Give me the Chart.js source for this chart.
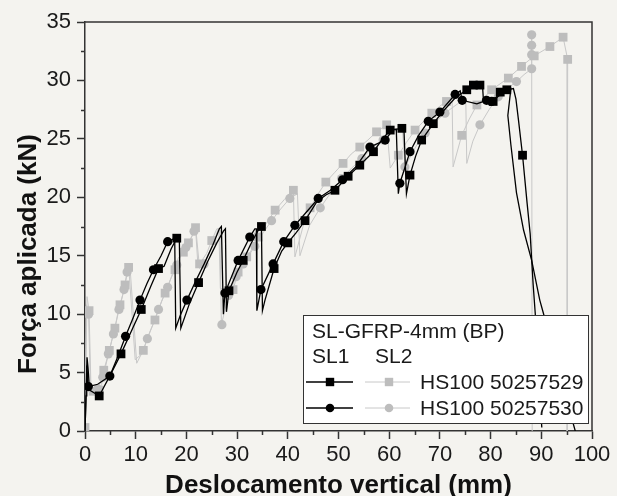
<!DOCTYPE html>
<html>
<head>
<meta charset="utf-8">
<script src="https://cdn.jsdelivr.net/npm/chart.js@4.4.1/dist/chart.umd.min.js"></script>
<style>
  html, body { margin: 0; padding: 0; background: #f4f3ef; }
  canvas { display: block; }
</style>
</head>
<body>
<canvas id="chart" width="617" height="496"></canvas>
<script>
// Axis ticks
const xTicks = [0, 10, 20, 30, 40, 50, 60, 70, 80, 90, 100];
const xMinorTicks = [5, 15, 25, 35, 45, 55, 65, 75, 85, 95];
const yTicks = [0, 5, 10, 15, 20, 25, 30, 35];
const yMinorTicks = [2.5, 7.5, 12.5, 17.5, 22.5, 27.5, 32.5];

// Text
const xTitle = 'Deslocamento vertical (mm)';
const yTitle = 'Força aplicada (kN)';
const legendTitle = 'SL-GFRP-4mm (BP)';
const specimens = ['SL1', 'SL2'];
const sensors = ['HS100 50257529', 'HS100 50257530'];

// SL1, sensor 50257529: load curve [mm, kN] and marked readings
const sl1_529_curve = [[0,0],[0.2,3.0],[0.4,6.3],[0.6,5.4],[0.9,3.5],[2.8,3.0],[5.0,4.8],[7.1,6.6],[9.2,8.6],[11.1,10.4],[13.0,12.4],[14.5,13.9],[15.6,14.1],[17.0,15.6],[18.1,16.5],[18.6,16.5],[18.9,8.8],[20.6,10.9],[22.4,12.7],[24.2,14.5],[26.0,16.1],[27.3,17.1],[27.7,17.3],[27.9,10.2],[28.4,12.0],[30.0,13.6],[31.2,14.6],[32.7,16.0],[34.2,17.2],[34.8,17.5],[35.0,10.3],[35.5,11.2],[37.3,13.9],[38.8,15.4],[40.0,16.1],[41.7,17.0],[43.4,18.0],[45.7,19.6],[47.5,20.2],[49.3,20.6],[51.9,21.8],[54.2,22.75],[56.9,23.9],[58.5,24.9],[60.2,25.75],[62.5,25.9],[62.9,25.9],[63.4,20.3],[64.1,21.9],[65.2,23.5],[66.4,24.9],[68.7,26.3],[70.5,27.3],[73.0,28.5],[75.3,29.2],[76.6,29.6],[77.9,29.6],[78.4,29.6],[78.6,28.2],[80.5,28.2],[81.9,29.0],[83.2,29.2],[84.5,29.3],[85.0,28.4],[85.5,26.6],[86.3,23.6],[87.2,19.5],[87.8,16.9],[88.4,12.5],[88.8,10.1],[89.5,4.5],[90.1,0.3]];
const sl1_529_marks = [[2.8,3.0],[7.1,6.6],[11.1,10.4],[14.5,13.9],[18.1,16.5],[22.4,12.7],[28.4,12.0],[31.2,14.6],[34.8,17.5],[37.3,13.9],[40.0,16.1],[43.4,18.0],[49.3,20.6],[51.9,21.8],[54.2,22.75],[56.9,23.9],[60.2,25.75],[62.5,25.9],[64.1,21.9],[66.4,24.9],[68.7,26.3],[75.3,29.2],[76.6,29.6],[77.9,29.6],[80.5,28.2],[81.9,29.0],[83.2,29.2],[86.3,23.6]];

// SL1, sensor 50257530
const sl1_530_curve = [[0,0],[0.2,3.0],[0.35,5.6],[0.65,3.8],[2.5,4.0],[4.9,4.7],[6.5,6.4],[8.0,8.1],[9.5,9.7],[10.85,11.2],[12.2,12.6],[13.5,13.8],[15.0,15.0],[16.3,16.2],[17.3,16.4],[17.7,16.3],[17.9,8.8],[18.8,9.9],[20.1,11.2],[21.7,12.7],[23.5,14.3],[25.2,15.9],[26.5,17.3],[26.9,17.5],[27.3,10.0],[27.6,11.8],[29.0,13.3],[30.2,14.6],[32.5,16.6],[33.5,17.3],[33.8,17.3],[33.9,10.3],[34.7,12.1],[37.1,14.3],[39.2,16.2],[41.4,17.6],[43.6,18.7],[46.0,19.9],[48.4,20.6],[50.8,21.5],[53.4,22.6],[56.2,24.3],[59.2,24.9],[60.8,25.8],[61.4,25.8],[61.8,20.3],[62.1,21.2],[64.1,23.9],[65.8,25.3],[67.7,26.5],[70.0,27.3],[73.0,28.8],[74.0,29.1],[74.4,28.3],[77.3,28.0],[79.2,28.3],[80.2,28.2],[82.3,28.9],[84.0,29.3],[83.4,27.0],[84.0,24.5],[85.1,20.4],[86.5,17.2],[88.1,14.6],[89.7,11.2],[90.4,10.1],[93.5,5.0],[96.7,0.0]];
const sl1_530_marks = [[0.65,3.8],[4.9,4.7],[8.0,8.1],[10.85,11.2],[13.5,13.8],[16.3,16.2],[20.1,11.2],[27.6,11.8],[30.2,14.6],[32.5,16.6],[34.7,12.1],[37.1,14.3],[39.2,16.2],[41.4,17.6],[46.0,19.9],[50.8,21.5],[56.2,24.3],[59.2,24.9],[62.1,21.2],[64.1,23.9],[67.7,26.5],[70.0,27.3],[73.0,28.8],[74.4,28.3],[79.2,28.3],[80.2,28.2]];

// SL2, sensor 50257529
const sl2_529_curve = [[0,0.3],[0.4,11.5],[0.8,10.3],[1.2,3.3],[1.6,3.4],[2.8,3.5],[3.3,4.0],[3.7,5.2],[4.3,6.1],[4.8,6.9],[5.3,7.8],[5.9,8.8],[6.4,9.9],[6.9,10.8],[7.4,11.6],[7.9,12.5],[8.2,13.2],[8.6,14.0],[8.9,13.9],[10.2,5.8],[11.5,6.9],[12.8,8.5],[13.8,9.5],[15.1,11.1],[15.8,11.8],[16.8,12.9],[17.75,13.8],[18.4,14.8],[19.4,15.3],[20.4,16.1],[21.4,16.9],[21.8,17.4],[22.3,14.0],[22.6,14.3],[24.0,15.2],[25.0,16.3],[26.0,17.3],[26.4,17.3],[26.7,12.2],[29.2,12.1],[30.2,13.6],[31.9,14.9],[33.0,15.6],[34.2,16.6],[35.8,17.8],[37.5,18.9],[39.3,19.8],[41.1,20.6],[41.4,14.9],[43.0,17.5],[44.4,19.1],[46.0,20.3],[47.5,21.3],[49.2,22.1],[50.9,22.9],[52.5,23.7],[54.2,24.3],[55.8,24.9],[57.5,25.6],[59.5,26.2],[60.2,22.5],[61.8,23.6],[63.4,24.7],[65.1,25.75],[66.8,26.5],[68.4,27.2],[70.0,27.8],[71.3,28.2],[72.4,28.6],[72.6,22.6],[74.3,25.3],[75.8,26.7],[77.3,27.9],[80.2,29.2],[83.5,30.2],[86.1,31.2],[88.6,32.1],[91.7,32.9],[94.3,33.7],[95.2,31.8],[95.1,0]];
const sl2_529_marks = [[0,0.3],[0.8,10.3],[1.6,3.4],[2.8,3.5],[3.7,5.2],[4.8,6.9],[5.9,8.8],[6.9,10.8],[7.9,12.5],[8.6,14.0],[11.5,6.9],[13.8,9.5],[15.8,11.8],[17.75,13.8],[19.4,15.3],[20.4,16.1],[21.8,17.4],[22.6,14.3],[25.0,16.3],[29.2,12.1],[30.2,13.6],[31.9,14.9],[34.2,16.6],[37.5,18.9],[41.1,20.6],[44.4,19.1],[47.5,21.3],[50.9,22.9],[54.2,24.3],[57.5,25.6],[59.5,26.2],[61.8,23.6],[65.1,25.75],[68.4,27.2],[71.3,28.2],[74.3,25.3],[77.3,27.9],[80.2,29.2],[83.5,30.2],[86.1,31.2],[88.6,32.1],[91.7,32.9],[94.3,33.7],[95.2,31.8]];

// SL2, sensor 50257530
const sl2_530_curve = [[0,0.2],[0.3,10.8],[0.7,10.0],[1.1,3.2],[1.8,3.3],[2.5,3.6],[3.5,4.6],[4.1,5.6],[4.6,6.6],[5.1,7.4],[5.6,8.3],[6.2,9.4],[6.7,10.4],[7.2,11.2],[7.7,12.1],[8.0,12.9],[8.3,13.6],[8.7,13.6],[9.9,6.1],[11.2,6.6],[12.3,7.9],[13.3,9.0],[14.5,10.4],[15.5,11.5],[16.3,12.3],[17.2,13.4],[18.1,14.2],[19.0,15.1],[19.9,15.7],[20.9,16.5],[21.5,17.1],[21.9,17.1],[22.6,13.9],[23.5,14.3],[24.7,15.5],[25.8,16.7],[26.3,17.3],[26.6,17.2],[26.9,9.1],[27.0,9.1],[28.3,11.6],[29.8,13.2],[31.2,14.3],[33.5,15.8],[35.2,17.0],[36.8,18.0],[38.6,19.0],[40.4,19.9],[41.9,20.3],[42.4,15.0],[44.3,17.6],[46.4,19.1],[48.5,20.4],[50.6,21.6],[52.6,22.5],[54.6,23.3],[56.6,24.2],[58.8,24.9],[60.8,25.6],[62.6,26.0],[63.1,22.6],[64.2,23.5],[65.6,24.6],[67.1,25.5],[69.0,26.4],[71.0,27.2],[73.2,27.9],[75.1,28.5],[75.3,22.9],[76.5,24.8],[77.9,26.2],[79.7,27.5],[81.5,28.6],[83.3,29.3],[85.1,29.9],[86.6,30.5],[88.1,31.0],[88.1,32.2],[88.1,33.0],[88.1,33.9],[88.2,0]];
const sl2_530_marks = [[0.7,10.0],[2.5,3.6],[3.5,4.6],[4.6,6.6],[5.6,8.3],[6.7,10.4],[7.7,12.1],[8.3,13.6],[12.3,7.9],[14.5,10.4],[16.3,12.3],[18.1,14.2],[19.9,15.7],[21.5,17.1],[23.5,14.3],[27.0,9.1],[28.3,11.6],[29.8,13.2],[31.2,14.3],[33.5,15.8],[36.8,18.0],[40.4,19.9],[46.4,19.1],[50.6,21.6],[54.6,23.3],[58.8,24.9],[63.1,22.6],[67.1,25.5],[71.0,27.2],[77.9,26.2],[81.5,28.6],[85.1,29.9],[88.1,31.0],[88.1,32.2],[88.1,33.0],[88.1,33.9]];

// ---- styling ----
const BG = '#f4f3ef';
const FONT = '"Liberation Sans", Arial, Helvetica, sans-serif';
const INK = '#1a1a1a';
const AXIS = '#333333';
const BLACK = '#000000';
const GREY_MARK = '#bdbdbd';
const GREY_LINE = '#c8c8c8';

const toXY = arr => arr.map(([x, y]) => ({ x, y }));

function curveSet(label, data, color, width) {
  return { label, data: toXY(data), borderColor: color, borderWidth: width,
           pointRadius: 0, showLine: true, fill: false, tension: 0 };
}
function markSet(label, data, color, style) {
  return { label, data: toXY(data), showLine: false, pointStyle: style,
           pointRadius: style === 'rect' ? 6.2 : 4.6,
           pointBackgroundColor: color, pointBorderColor: color, pointBorderWidth: 0 };
}

// Legend, frame, minor ticks and axis titles
const decor = {
  id: 'decor',
  beforeDraw(chart) {
    const { ctx, width, height } = chart;
    ctx.save();
    ctx.fillStyle = BG;
    ctx.fillRect(0, 0, width, height);
    ctx.restore();
  },
  afterDatasetsDraw(chart) {
    const { ctx, chartArea: a, scales: { x, y } } = chart;
    ctx.save();

    // top and right frame
    ctx.strokeStyle = AXIS;
    ctx.lineWidth = 1.5;
    ctx.beginPath();
    ctx.moveTo(a.left, a.top);
    ctx.lineTo(a.right, a.top);
    ctx.lineTo(a.right, a.bottom);
    ctx.stroke();

    // minor ticks
    ctx.beginPath();
    xMinorTicks.forEach(v => {
      const px = Math.round(x.getPixelForValue(v)) + 0.5;
      ctx.moveTo(px, a.bottom);
      ctx.lineTo(px, a.bottom + 4);
    });
    yMinorTicks.forEach(v => {
      const py = Math.round(y.getPixelForValue(v)) + 0.5;
      ctx.moveTo(a.left, py);
      ctx.lineTo(a.left - 4, py);
    });
    ctx.stroke();

    // legend box
    const L = a.right - 289, T = a.bottom - 116, W = 285, H = 108;
    ctx.fillStyle = '#ffffff';
    ctx.fillRect(L, T, W, H);
    ctx.strokeStyle = AXIS;
    ctx.lineWidth = 1;
    ctx.strokeRect(L + 0.5, T + 0.5, W, H);

    ctx.fillStyle = INK;
    ctx.font = '21px ' + FONT;
    ctx.textBaseline = 'alphabetic';
    ctx.textAlign = 'left';
    ctx.fillText(legendTitle, L + 9, T + 23);
    ctx.fillText(specimens[0], L + 9, T + 48);
    ctx.fillText(specimens[1], L + 72, T + 48);

    const rows = [T + 67, T + 93];
    const styles = ['rect', 'circle'];
    rows.forEach((ry, i) => {
      [[L + 3, L + 50, L + 27, BLACK, BLACK, 1.3], [L + 62, L + 107, L + 86, GREY_LINE, GREY_MARK, 1]].forEach(([x0, x1, xc, lc, mc, lw]) => {
        ctx.strokeStyle = lc;
        ctx.lineWidth = lw;
        ctx.beginPath();
        ctx.moveTo(x0, ry);
        ctx.lineTo(x1, ry);
        ctx.stroke();
        ctx.fillStyle = mc;
        if (styles[i] === 'rect') {
          ctx.fillRect(xc - 4.2, ry - 4.2, 8.4, 8.4);
        } else {
          ctx.beginPath();
          ctx.arc(xc, ry, 4.3, 0, Math.PI * 2);
          ctx.fill();
        }
      });
      ctx.fillStyle = INK;
      ctx.textBaseline = 'middle';
      ctx.fillText(sensors[i], L + 117, ry + 1);
    });

    // axis titles
    ctx.fillStyle = '#111111';
    ctx.font = 'bold 26px ' + FONT;
    ctx.textAlign = 'center';
    ctx.textBaseline = 'alphabetic';
    ctx.fillText(xTitle, (a.left + a.right) / 2, 493);

    ctx.translate(36, 254);
    ctx.rotate(-Math.PI / 2);
    ctx.fillText(yTitle, 0, 0);
    ctx.restore();
  }
};

new Chart(document.getElementById('chart'), {
  type: 'line',
  data: {
    datasets: [
      markSet('SL1 HS100 50257529', sl1_529_marks, BLACK, 'rect'),
      markSet('SL1 HS100 50257530', sl1_530_marks, BLACK, 'circle'),
      curveSet('SL1 HS100 50257529 curve', sl1_529_curve, BLACK, 1.3),
      curveSet('SL1 HS100 50257530 curve', sl1_530_curve, BLACK, 1.3),
      markSet('SL2 HS100 50257529', sl2_529_marks, GREY_MARK, 'rect'),
      markSet('SL2 HS100 50257530', sl2_530_marks, GREY_MARK, 'circle'),
      curveSet('SL2 HS100 50257529 curve', sl2_529_curve, GREY_LINE, 1),
      curveSet('SL2 HS100 50257530 curve', sl2_530_curve, GREY_LINE, 1)
    ]
  },
  options: {
    responsive: false,
    devicePixelRatio: 1,
    animation: false,
    events: [],
    layout: { padding: { top: 22, right: 25, left: 0, bottom: 0 } },
    plugins: { legend: { display: false }, tooltip: { enabled: false } },
    scales: {
      x: {
        type: 'linear', min: 0, max: 100,
        afterFit: s => { s.height = 65; },
        afterBuildTicks: s => { s.ticks = xTicks.map(v => ({ value: v })); },
        ticks: { font: { family: FONT, size: 22 }, color: INK, padding: 3, maxRotation: 0, autoSkip: false },
        grid: { drawOnChartArea: false, drawTicks: true, tickLength: 8, tickColor: AXIS, tickWidth: 1.5 },
        border: { color: AXIS, width: 1.5 }
      },
      y: {
        type: 'linear', min: 0, max: 35,
        afterFit: s => { s.width = 85; },
        afterBuildTicks: s => { s.ticks = yTicks.map(v => ({ value: v })); },
        ticks: { font: { family: FONT, size: 22 }, color: INK, padding: 6, autoSkip: false },
        grid: { drawOnChartArea: false, drawTicks: true, tickLength: 8, tickColor: AXIS, tickWidth: 1.5 },
        border: { color: AXIS, width: 1.5 }
      }
    }
  },
  plugins: [decor]
});
</script>
</body>
</html>
